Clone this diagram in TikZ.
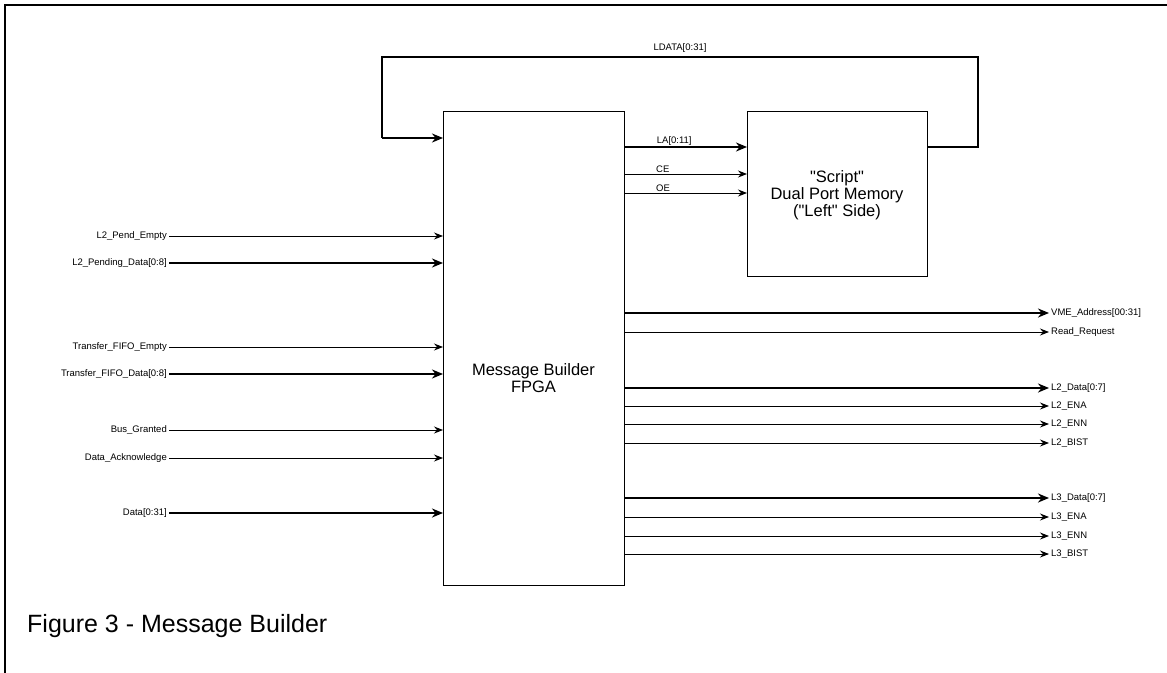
\documentclass[tikz,border=0pt]{standalone}
\usepackage{fontspec}
\setmainfont{Liberation Sans}[Ligatures=TeXOff]
\usetikzlibrary{arrows.meta}
\begin{document}
\begin{tikzpicture}[x=1pt,y=-1pt,
  sig/.style={line width=0.9pt,-{Stealth[length=9pt,width=7pt,inset=3pt]}},
  bus/.style={line width=2.3pt,-{Stealth[length=11pt,width=9pt,inset=3.5pt]}},
  loopline/.style={line width=2.3pt},
  box/.style={draw,line width=1pt,outer sep=0pt,inner sep=0pt},
  lbl/.style={font=\fontsize{9.5}{11}\selectfont,inner sep=2pt},
  bigtxt/.style={font=\fontsize{16.5}{17}\selectfont,align=center,inner sep=0pt},
  frame/.style={line width=2pt}
  ]
\useasboundingbox (0,0) rectangle (1167,672);
% outer frame (right and bottom edges lie outside the picture)
\draw[frame] (5,680) -- (5,5) -- (1175,5);

% blocks
\node[box,minimum width=181pt,minimum height=474pt] (fpga) at (533.5,348) {};
\node[bigtxt] (fpgatext) at (533.5,378) {Message Builder\\FPGA};
\node[box,minimum width=180pt,minimum height=165pt] (mem) at (837,193.5) {};
\node[bigtxt] (memtext) at (837,195) {"Script"\\Dual Port Memory\\("Left" Side)};

% level coordinates
\coordinate (yLA) at (0,147);
\coordinate (yCE) at (0,174);
\coordinate (yOE) at (0,193);
\coordinate (yIN) at (0,138);
\coordinate (ldR) at (978,147);
\coordinate (ldTR) at (978,57);
\coordinate (ldTL) at (382,57);
\coordinate (ldL) at (382,138);

% FPGA -> memory
\draw[bus] (fpga.east |- yLA) -- node[pos=0.25,anchor=south west,lbl,inner sep=1pt,yshift=-1pt]{LA[0:11]} (mem.west |- yLA);
\draw[sig] (fpga.east |- yCE) -- node[pos=0.25,anchor=south west,lbl,inner sep=1pt]{CE} (mem.west |- yCE);
\draw[sig] (fpga.east |- yOE) -- node[pos=0.25,anchor=south west,lbl,inner sep=1pt]{OE} (mem.west |- yOE);

% LDATA loop
\draw[loopline] (mem.east |- yLA) -- (ldR) -- (ldTR) -- node[midway,above,lbl,yshift=1pt]{LDATA[0:31]} (ldTL) -- (ldL);
\draw[bus] (ldL) -- (fpga.west |- yIN);

% inputs
\foreach \y/\t/\s [count=\i] in {
  236/L2\_Pend\_Empty/sig,
  263/L2\_Pending\_Data[0:8]/bus,
  347/Transfer\_FIFO\_Empty/sig,
  374/Transfer\_FIFO\_Data[0:8]/bus,
  430/Bus\_Granted/sig,
  458/Data\_Acknowledge/sig,
  513/Data[0:31]/bus}{
  \node[lbl,anchor=east] (in\i) at (169,\y) {\t};
  \draw[\s] (in\i.east) -- (fpga.west |- in\i.east);
}

% outputs
\foreach \y/\t/\s [count=\i] in {
  313/VME\_Address[00:31]/bus,
  332/Read\_Request/sig,
  388/L2\_Data[0:7]/bus,
  406/L2\_ENA/sig,
  424/L2\_ENN/sig,
  443/L2\_BIST/sig,
  498/L3\_Data[0:7]/bus,
  517/L3\_ENA/sig,
  536/L3\_ENN/sig,
  554/L3\_BIST/sig}{
  \node[lbl,anchor=west] (out\i) at (1049,\y) {\t};
  \draw[\s] (fpga.east |- out\i.west) -- (out\i.west);
}

% caption
\node[anchor=base west,inner sep=0pt,font=\fontsize{25}{28}\selectfont] (caption) at (27,632) {Figure 3 - Message Builder};
\end{tikzpicture}
\end{document}
